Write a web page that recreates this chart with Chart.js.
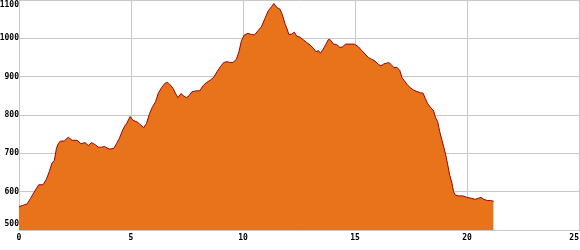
<!DOCTYPE html>
<html>
<head>
<meta charset="utf-8">
<script src="https://cdn.jsdelivr.net/npm/chart.js@4/dist/chart.umd.min.js"></script>
<style>
html,body{margin:0;padding:0;background:#fff;}
canvas{display:block;}
</style>
</head>
<body>
<canvas id="c" width="580" height="250"></canvas>
<script>
const distance = [0,0.16,0.36,0.51,0.68,0.88,1.07,1.22,1.35,1.47,1.58,1.67,1.76,1.85,2.02,2.2,2.37,2.59,2.77,2.95,3.1,3.24,3.42,3.54,3.69,3.81,3.93,4.05,4.23,4.35,4.48,4.63,4.73,4.82,4.96,5.09,5.27,5.39,5.57,5.69,5.83,5.95,6.1,6.22,6.37,6.52,6.64,6.76,6.88,7.0,7.1,7.23,7.35,7.47,7.59,7.71,7.89,8.07,8.21,8.36,8.54,8.69,8.84,8.99,9.14,9.29,9.44,9.55,9.7,9.82,9.93,10.06,10.22,10.37,10.52,10.67,10.82,10.98,11.13,11.28,11.38,11.5,11.65,11.76,11.88,11.96,12.05,12.17,12.29,12.4,12.54,12.7,12.84,12.99,13.14,13.26,13.37,13.46,13.57,13.69,13.81,13.9,14.04,14.18,14.33,14.45,14.58,14.78,14.97,15.15,15.3,15.45,15.6,15.75,15.89,16.04,16.16,16.28,16.4,16.5,16.61,16.73,16.88,17.0,17.1,17.21,17.32,17.47,17.62,17.77,17.92,18.04,18.14,18.25,18.37,18.51,18.59,18.69,18.78,18.88,18.96,19.05,19.14,19.23,19.33,19.4,19.48,19.63,19.82,20.0,20.18,20.37,20.52,20.63,20.75,20.9,21.05,21.19];
const elevation = [561,564,568,582,599,618,618,632,652,674,682,713,726,732,732,742,734,734,725,728,720,728,722,716,716,718,714,711,713,725,739,761,772,779,796,786,782,776,767,778,804,820,835,857,872,883,885,878,869,855,845,856,850,845,850,860,863,863,876,884,891,898,913,926,937,939,937,937,945,965,994,1009,1013,1010,1009,1020,1030,1052,1072,1083,1091,1081,1076,1061,1037,1026,1010,1011,1016,1006,1003,996,989,983,974,965,968,961,971,983,997,996,985,984,976,978,985,985,985,978,968,959,950,945,941,932,928,933,935,937,932,924,924,916,897,889,880,871,865,861,858,857,843,829,820,811,794,783,757,735,717,696,670,643,622,600,591,589,589,585,583,580,583,585,580,577,577,575];
const xTicks = [0,5,10,15,20,25];
const yTicks = [500,600,700,800,900,1000,1100];

const points = distance.map((d,i)=>({x:d,y:elevation[i]}));

const labelFont = "bold 8px 'DejaVu Sans Mono', monospace";

const tickLabels = {
  id:'tickLabels',
  afterDraw(chart){
    const ctx = chart.ctx;
    const xs = chart.scales.x, ys = chart.scales.y;
    ctx.save();
    ctx.font = labelFont;
    ctx.fillStyle = '#000';
    ctx.textBaseline = 'middle';
    ctx.textAlign = 'right';
    yTicks.forEach(v=>{
      let py = ys.getPixelForValue(v);
      py = Math.min(Math.max(py, 4.5), ys.bottom - 6);
      ctx.fillText(String(v), xs.left, py);
    });
    ctx.textAlign = 'left';
    xTicks.forEach(v=>{
      const px = xs.getPixelForValue(v);
      const s = String(v);
      const w = ctx.measureText(s).width;
      let lx = px - w/2;
      lx = Math.min(lx, chart.width - w - 1);
      ctx.fillText(s, lx, xs.top + 7.5);
    });
    ctx.restore();
  }
};

new Chart(document.getElementById('c'), {
  type:'scatter',
  data:{
    datasets:[{
      data:points,
      showLine:true,
      fill:'start',
      backgroundColor:'rgb(233,115,26)',
      borderColor:'#a00000',
      borderWidth:1,
      pointRadius:0,
      tension:0
    }]
  },
  options:{
    responsive:false,
    animation:false,
    layout:{padding:{top:0,right:1,left:0,bottom:0}},
    plugins:{legend:{display:false},tooltip:{enabled:false}},
    scales:{
      x:{
        type:'linear',min:0,max:25,
        ticks:{display:false,stepSize:5},
        grid:{color:'#c8c8c8',lineWidth:1,drawTicks:false},
        border:{color:'#c8c8c8'},
        afterFit(s){s.height=20;}
      },
      y:{
        type:'linear',min:500,max:1100,
        ticks:{display:false,stepSize:100},
        grid:{color:'#c8c8c8',lineWidth:1,drawTicks:false},
        border:{color:'#c8c8c8'},
        afterFit(s){s.width=19;}
      }
    }
  },
  plugins:[tickLabels]
});
</script>
</body>
</html>
